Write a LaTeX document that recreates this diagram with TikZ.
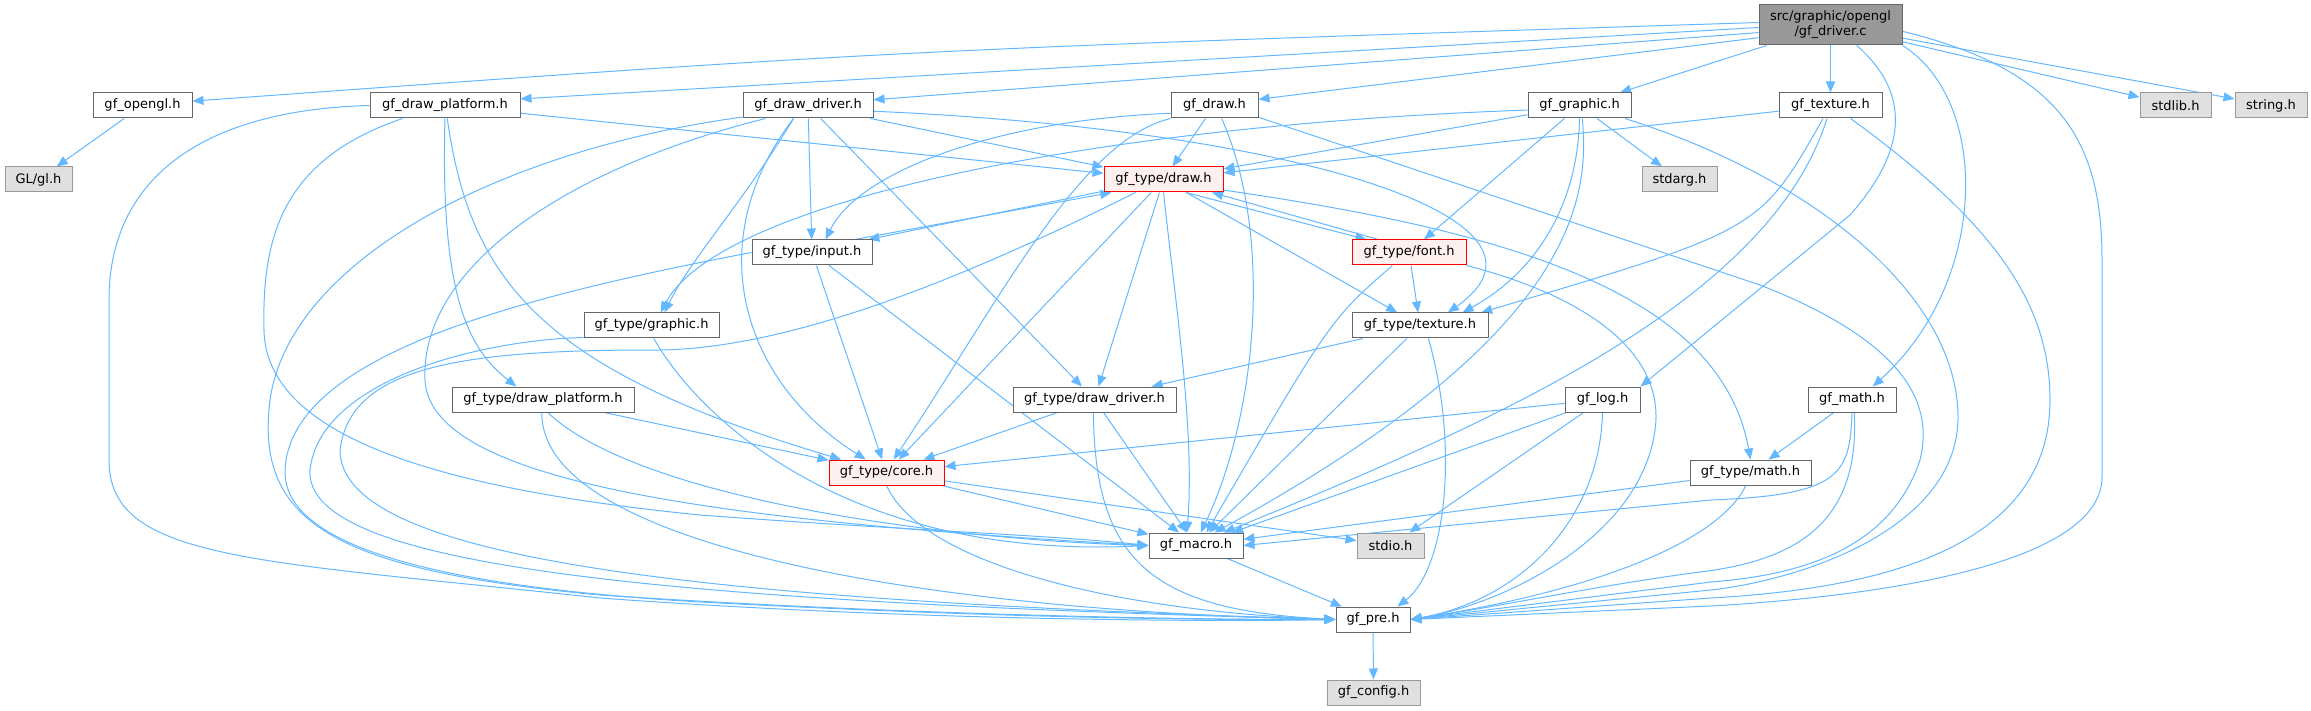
\documentclass[tikz,border=0pt]{standalone}
\usepackage{fontspec}
\setmainfont{DejaVu Sans}
\usetikzlibrary{arrows.meta,backgrounds}

\definecolor{depblue}{HTML}{63B8FF}
\definecolor{hdrline}{HTML}{666666}
\definecolor{sysline}{HTML}{999999}
\definecolor{sysfill}{HTML}{E0E0E0}
\definecolor{redline}{HTML}{FF0000}
\definecolor{redfill}{HTML}{FFF0F0}

\begin{document}
\begin{tikzpicture}[x=1pt, y=-1pt,
    hdr/.style={draw=hdrline, fill=white, line width=1pt, minimum height=25pt, inner sep=0pt, font=\fontsize{13}{15}\selectfont},
    sys/.style={hdr, draw=sysline, fill=sysfill},
    trunc/.style={hdr, draw=redline, fill=redfill},
    srcfile/.style={hdr, fill=sysline, minimum height=40pt, align=center},
    dep/.style={depblue, line width=1pt, -{Triangle[length=11pt, width=9pt]}}]
    \useasboundingbox (0,0) rectangle (2311,711);

    % Files
    \node[srcfile, minimum width=143pt] (drv) at (1830.5,25) {src/graphic/opengl\\/gf\_driver.c};
    \node[hdr, minimum width=99pt] (opengl) at (142.5,105.5) {gf\_opengl.h};
    \node[sys, minimum width=67pt] (gl) at (38.5,179.5) {GL/gl.h};
    \node[hdr, minimum width=150pt] (dplat) at (445,105.5) {gf\_draw\_platform.h};
    \node[hdr, minimum width=130pt] (ddrv) at (808,105.5) {gf\_draw\_driver.h};
    \node[hdr, minimum width=87pt] (gdraw) at (1214.5,105.5) {gf\_draw.h};
    \node[hdr, minimum width=103pt] (graphic) at (1579.5,105.5) {gf\_graphic.h};
    \node[hdr, minimum width=103pt] (texture) at (1830.5,105.5) {gf\_texture.h};
    \node[sys, minimum width=71pt] (stdlib) at (2175.5,105.5) {stdlib.h};
    \node[sys, minimum width=72pt] (string) at (2271,105.5) {string.h};
    \node[trunc, minimum width=119pt] (tdraw) at (1163.5,179.5) {gf\_type/draw.h};
    \node[sys, minimum width=75pt] (stdarg) at (1679.5,179.5) {stdarg.h};
    \node[hdr, minimum width=120pt] (tinput) at (812,252.5) {gf\_type/input.h};
    \node[trunc, minimum width=114pt] (tfont) at (1409,252.5) {gf\_type/font.h};
    \node[hdr, minimum width=135pt] (tgraphic) at (651.5,325.5) {gf\_type/graphic.h};
    \node[hdr, minimum width=136pt] (ttex) at (1420,325.5) {gf\_type/texture.h};
    \node[hdr, minimum width=182pt] (tdplat) at (543,399.5) {gf\_type/draw\_platform.h};
    \node[hdr, minimum width=163pt] (tddrv) at (1094.5,399.5) {gf\_type/draw\_driver.h};
    \node[hdr, minimum width=75pt] (log) at (1602.5,399.5) {gf\_log.h};
    \node[hdr, minimum width=88pt] (math) at (1852,399.5) {gf\_math.h};
    \node[trunc, minimum width=115pt] (core) at (886.5,472.5) {gf\_type/core.h};
    \node[hdr, minimum width=121pt] (tmath) at (1750.5,472.5) {gf\_type/math.h};
    \node[hdr, minimum width=94pt] (macro) at (1196,545.5) {gf\_macro.h};
    \node[sys, minimum width=67pt] (stdio) at (1390.5,545.5) {stdio.h};
    \node[hdr, minimum width=74pt] (pre) at (1373,619.5) {gf\_pre.h};
    \node[sys, minimum width=93pt] (config) at (1373.5,692.5) {gf\_config.h};

    % Includes
    \begin{scope}[on background layer]
        \foreach \hfrom/\hto in {drv/graphic, drv/texture, drv/stdlib, drv/string, opengl/gl,
                dplat/tdraw, ddrv/tdraw, ddrv/tinput, ddrv/tddrv, gdraw/tdraw, graphic/tdraw,
                graphic/tfont, graphic/stdarg, texture/tdraw, tdraw/ttex, tdraw/tddrv, tdraw/core,
                tinput/core, tinput/macro, tfont/ttex, ttex/tddrv, ttex/macro, tdplat/core,
                tddrv/core, tddrv/macro, log/core, log/macro, log/stdio, math/tmath,
                core/macro, core/stdio, tmath/macro, macro/pre, pre/config}
            \draw[dep] (\hfrom) -- (\hto);

        % from the source file
        \draw[dep] (drv.178) .. controls (900,50) .. (opengl.5);
        \draw[dep] (drv.182) -- (dplat.5);
        \draw[dep] (drv.186) -- (ddrv.5);
        \draw[dep] (drv.190) -- (gdraw.8);
        \draw[dep] (drv.322) .. controls (1925,105) and (1890,170) .. (1850,215) -- (log.north east);
        \draw[dep] (drv.south east) .. controls (1990,100) and (1990,280) .. (math.32);
        \draw[dep] (drv.355) .. controls (2060,70) and (2102,140) .. (2102,260) -- (2102,477)
            .. controls (2102,560) and (1900,595) .. (1711,606) -- (pre.east);

        % top row headers
        \draw[dep] (dplat.south) .. controls (440,300) and (470,350) .. (tdplat.154);
        \draw[dep] (dplat.280) .. controls (470,280) and (540,370) .. (core.164);
        \draw[dep] (dplat.197) .. controls (280,160) and (262,240) .. (264,330)
            .. controls (266,440) and (450,490) .. (700,515) .. controls (900,530) and (1050,535) .. (macro.west);
        \draw[dep] (dplat.west) .. controls (200,110) and (109,180) .. (109,300) -- (109,460)
            .. controls (109,560) and (250,560) .. (600,598) .. controls (900,620) and (1200,622) .. (pre.west);
        \draw[dep] (ddrv.222) .. controls (745,200) and (690,260) .. (tgraphic.45);
        \draw[dep] (ddrv.222) .. controls (700,240) and (740,380) .. (core.148);
        \draw[dep] (ddrv.355) .. controls (1300,130) and (1580,220) .. (ttex.25);
        \draw[dep] (ddrv.197) .. controls (560,170) and (420,270) .. (425,380)
            .. controls (430,480) and (700,520) .. (macro.west);
        \draw[dep] (ddrv.190) .. controls (500,150) and (290,260) .. (270,400)
            .. controls (255,520) and (330,570) .. (600,595) .. controls (900,615) and (1200,620) .. (pre.west);
        \draw[dep] (gdraw.190) .. controls (1000,120) and (860,170) .. (tinput.44);
        \draw[dep] (gdraw.south west) .. controls (1080,140) and (1000,300) .. (core.61);
        \draw[dep] (gdraw.299) .. controls (1275,240) and (1255,420) .. (macro.70);
        \draw[dep] (gdraw.345) -- (1760,285) .. controls (1900,340) and (1935,400) .. (1920,460)
            .. controls (1890,550) and (1800,575) .. (1711,582) -- (pre.east);
        \draw[dep] (graphic.185) .. controls (1100,125) and (720,200) .. (tgraphic.55);
        \draw[dep] (graphic.south) .. controls (1578,200) and (1540,270) .. (ttex.17);
        \draw[dep] (graphic.282) .. controls (1590,200) and (1575,335) .. (macro.35);
        \draw[dep] (graphic.344) .. controls (1820,180) and (1960,300) .. (1958,420)
            .. controls (1955,530) and (1800,580) .. (1711,590) -- (pre.east);
        \draw[dep] (texture.240) .. controls (1760,230) .. (ttex.12);
        \draw[dep] (texture.255) .. controls (1770,300) and (1500,420) .. (macro.25);
        \draw[dep] (texture.327) .. controls (1990,220) and (2050,300) .. (2050,400)
            .. controls (2050,560) and (1850,590) .. (1711,598) -- (pre.east);

        % gf_type headers
        \draw[dep] (tdraw.191) -- (tinput.13);
        \draw[dep] (tinput.17) -- (tdraw.194);
        \draw[dep] (tdraw.330) -- (tfont.163);
        \draw[dep] (tfont.157) -- (tdraw.345);
        \draw[dep] (tdraw.350) .. controls (1500,230) and (1720,290) .. (tmath.north);
        \draw[dep] (tdraw.south) .. controls (1175,300) and (1195,430) .. (macro.125);
        \draw[dep] (tdraw.205) .. controls (1000,260) and (800,352) .. (650,350)
            .. controls (450,350) and (350,370) .. (340,450) .. controls (340,560) and (700,600) .. (pre.west);
        \draw[dep] (tinput.west) .. controls (500,300) and (290,360) .. (285,470)
            .. controls (282,560) and (500,590) .. (700,602) .. controls (1000,618) and (1200,620) .. (pre.west);
        \draw[dep] (tfont.218) .. controls (1330,320) .. (macro.51);
        \draw[dep] (tfont.south east) .. controls (1600,300) and (1665,360) .. (1655,430)
            .. controls (1640,540) and (1500,605) .. (pre.east);
        \draw[dep] (tgraphic.280) .. controls (700,420) and (850,560) .. (macro.west);
        \draw[dep] (tgraphic.190) .. controls (480,340) and (320,380) .. (310,470)
            .. controls (305,560) and (600,600) .. (pre.west);
        \draw[dep] (ttex.303) .. controls (1460,450) and (1445,570) .. (pre.28);
        \draw[dep] (tdplat.290) .. controls (640,500) and (950,540) .. (macro.west);
        \draw[dep] (tdplat.265) .. controls (540,540) and (900,610) .. (pre.west);
        \draw[dep] (tddrv.265) .. controls (1095,560) and (1150,610) .. (pre.west);
        \draw[dep] (core.south) .. controls (920,560) and (1100,610) .. (pre.west);
        \draw[dep] (log.south) .. controls (1600,520) and (1520,600) .. (pre.east);
        \draw[dep] (math.south) .. controls (1850,475) and (1840,495) .. (1711,500) -- (macro.east);
        \draw[dep] (math.280) .. controls (1860,520) and (1800,560) .. (1700,572)
            .. controls (1600,585) and (1480,610) .. (pre.east);
        \draw[dep] (tmath.250) .. controls (1720,540) and (1600,590) .. (pre.east);
    \end{scope}
\end{tikzpicture}
\end{document}
